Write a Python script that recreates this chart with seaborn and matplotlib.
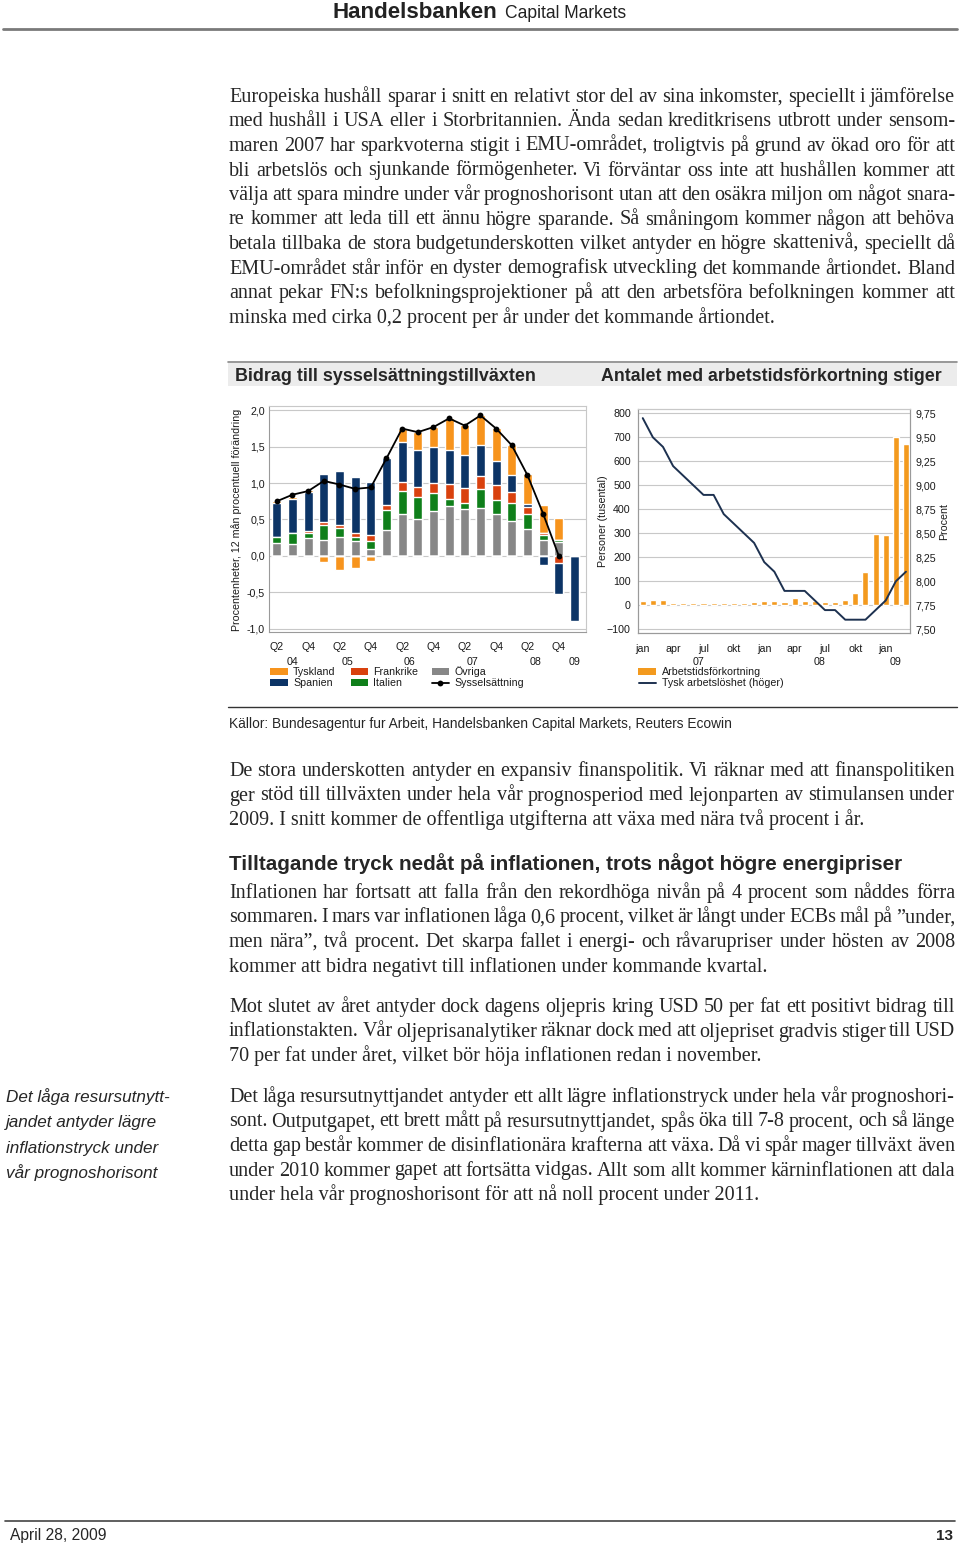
import numpy as np
import pandas as pd
import matplotlib
matplotlib.use("Agg")
import matplotlib.pyplot as plt
import matplotlib.ticker as ticker
import seaborn as sns
from matplotlib import font_manager
from matplotlib.patches import Rectangle
from matplotlib.lines import Line2D
from matplotlib.transforms import blended_transform_factory

# --- Vänster diagram: bidrag till sysselsättningstillväxten (procentenheter) ---
kvartal = ["Q2 04", "Q3 04", "Q4 04", "Q1 05", "Q2 05", "Q3 05", "Q4 05", "Q1 06", "Q2 06", "Q3 06",
           "Q4 06", "Q1 07", "Q2 07", "Q3 07", "Q4 07", "Q1 08", "Q2 08", "Q3 08", "Q4 08", "Q1 09"]
ovriga = [0.17, 0.16, 0.24, 0.22, 0.26, 0.20, 0.10, 0.35, 0.57, 0.51,
          0.61, 0.69, 0.64, 0.66, 0.58, 0.48, 0.37, 0.22, 0.19, 0.00]
italien = [0.09, 0.15, 0.08, 0.20, 0.12, 0.06, 0.10, 0.28, 0.32, 0.30,
           0.25, 0.09, 0.09, 0.26, 0.19, 0.25, 0.20, 0.06, 0.03, 0.00]
frankrike = [-0.02, 0.00, 0.02, 0.05, 0.05, 0.06, 0.08, 0.07, 0.12, 0.14,
             0.14, 0.21, 0.20, 0.18, 0.20, 0.15, 0.10, 0.03, -0.10, 0.00]
spanien = [0.46, 0.47, 0.54, 0.65, 0.74, 0.77, 0.73, 0.65, 0.56, 0.50,
           0.49, 0.47, 0.46, 0.43, 0.33, 0.23, 0.04, -0.12, -0.42, -0.90]
tyskland = [0.04, 0.03, 0.03, -0.09, -0.19, -0.17, -0.07, -0.02, 0.18, 0.25,
            0.28, 0.43, 0.41, 0.41, 0.46, 0.42, 0.41, 0.39, 0.30, 0.01]
sysselsattning = [0.75, 0.84, 0.89, 1.03, 0.98, 0.92, 0.94, 1.34, 1.75, 1.70,
                  1.77, 1.89, 1.79, 1.93, 1.75, 1.52, 1.11, 0.58, 0.00]
q_etiketter = ["Q2", "Q4"] * 5
ar_vanster = ["04", "05", "06", "07", "08", "09"]

# --- Höger diagram: arbetstidsförkortning (tusental) och tysk arbetslöshet (%) ---
manader = ["jan 07", "feb 07", "mar 07", "apr 07", "maj 07", "jun 07", "jul 07", "aug 07", "sep 07",
           "okt 07", "nov 07", "dec 07", "jan 08", "feb 08", "mar 08", "apr 08", "maj 08", "jun 08",
           "jul 08", "aug 08", "sep 08", "okt 08", "nov 08", "dec 08", "jan 09", "feb 09", "mar 09"]
arbetstid = [18, 21, 21, 10, 10, 10, 9, 8, 8, 8, 9, 14, 18, 18, 15, 32,
             18, 18, 15, 14, 24, 53, 139, 299, 293, 703, 673]
arbetsloshet = [9.70, 9.50, 9.40, 9.20, 9.10, 9.00, 8.90, 8.90, 8.70, 8.60, 8.50, 8.40, 8.20, 8.10,
                7.90, 7.90, 7.90, 7.80, 7.70, 7.70, 7.60, 7.60, 7.60, 7.70, 7.80, 8.00, 8.10]
man_etiketter = ["jan", "apr", "jul", "okt", "jan", "apr", "jul", "okt", "jan"]
ar_hoger = ["07", "08", "09"]

# --- Brödtext ---
stycke1 = [
    "Europeiska hushåll sparar i snitt en relativt stor del av sina inkomster, speciellt i jämförelse",
    "med hushåll i USA eller i Storbritannien. Ända sedan kreditkrisens utbrott under sensom-",
    "maren 2007 har sparkvoterna stigit i EMU-området, troligtvis på grund av ökad oro för att",
    "bli arbetslös och sjunkande förmögenheter. Vi förväntar oss inte att hushållen kommer att",
    "välja att spara mindre under vår prognoshorisont utan att den osäkra miljon om något snara-",
    "re kommer att leda till ett ännu högre sparande. Så småningom kommer någon att behöva",
    "betala tillbaka de stora budgetunderskotten vilket antyder en högre skattenivå, speciellt då",
    "EMU-området står inför en dyster demografisk utveckling det kommande årtiondet. Bland",
    "annat pekar FN:s befolkningsprojektioner på att den arbetsföra befolkningen kommer att",
    "minska med cirka 0,2 procent per år under det kommande årtiondet.",
]
stycke2 = [
    "De stora underskotten antyder en expansiv finanspolitik. Vi räknar med att finanspolitiken",
    "ger stöd till tillväxten under hela vår prognosperiod med lejonparten av stimulansen under",
    "2009. I snitt kommer de offentliga utgifterna att växa med nära två procent i år.",
]
rubrik = "Tilltagande tryck nedåt på inflationen, trots något högre energipriser"
stycke3 = [
    "Inflationen har fortsatt att falla från den rekordhöga nivån på 4 procent som nåddes förra",
    "sommaren. I mars var inflationen låga 0,6 procent, vilket är långt under ECBs mål på ”under,",
    "men nära”, två procent. Det skarpa fallet i energi- och råvarupriser under hösten av 2008",
    "kommer att bidra negativt till inflationen under kommande kvartal.",
]
stycke4 = [
    "Mot slutet av året antyder dock dagens oljepris kring USD 50 per fat ett positivt bidrag till",
    "inflationstakten. Vår oljeprisanalytiker räknar dock med att oljepriset gradvis stiger till USD",
    "70 per fat under året, vilket bör höja inflationen redan i november.",
]
stycke5 = [
    "Det låga resursutnyttjandet antyder ett allt lägre inflationstryck under hela vår prognoshori-",
    "sont. Outputgapet, ett brett mått på resursutnyttjandet, spås öka till 7-8 procent, och så länge",
    "detta gap består kommer de disinflationära krafterna att växa. Då vi spår mager tillväxt även",
    "under 2010 kommer gapet att fortsätta vidgas. Allt som allt kommer kärninflationen att dala",
    "under hela vår prognoshorisont för att nå noll procent under 2011.",
]
marginal = ["Det låga resursutnytt-", "jandet antyder lägre", "inflationstryck under", "vår prognoshorisont"]

# --- Stil ---
sns.set_style("white")
installerade = {f.name for f in font_manager.fontManager.ttflist}
SANS = "Liberation Sans"
SMAL = "Liberation Sans Narrow" if "Liberation Sans Narrow" in installerade else SANS
SERIF = "Liberation Serif"
plt.rcParams["font.family"] = [SANS, "DejaVu Sans"]

W, H = 960, 1546
fig = plt.figure(figsize=(W / 100, H / 100), dpi=100)
renderer = fig.canvas.get_renderer()


def fy(y):
    return 1 - y / H


def txt(x, y, s, **kw):
    kw.setdefault("va", "baseline")
    return fig.text(x / W, fy(y), s, **kw)


def passa(t, bredd):
    w = t.get_window_extent(renderer).width
    t.set_fontsize(t.get_fontsize() * bredd / w)
    return t


def linje(x0, x1, y, **kw):
    fig.add_artist(Line2D([x0 / W, x1 / W], [fy(y), fy(y)], transform=fig.transFigure, **kw))


def stycke(rader, y0, storlek, dy=24.5, x0=229, x1=955):
    # justerad text: sista raden vänsterställd
    for i, rad in enumerate(rader):
        y = y0 + i * dy + 6
        if i == len(rader) - 1:
            txt(x0, y, rad, family=SERIF, fontsize=storlek)
            continue
        ord_ = rad.split(" ")
        tt = [txt(x0, y, w, family=SERIF, fontsize=storlek) for w in ord_]
        br = [t.get_window_extent(renderer).width for t in tt]
        gap = (x1 - x0 - sum(br)) / (len(ord_) - 1)
        x = x0
        for t, b in zip(tt, br):
            t.set_x(x / W)
            x += b + gap


# --- Sidhuvud ---
passa(txt(333, 18, "Handelsbanken", weight="bold", fontsize=13, color="#222222"), 165)
passa(txt(505, 18, "Capital Markets", fontsize=10, color="#222222"), 122)
linje(3, 957, 29, color="#7a7a7a", lw=2)

# --- Brödtext ---
prov = passa(txt(229, 0, stycke1[-1], family=SERIF, fontsize=13.2), 550)
BROD = prov.get_fontsize()
prov.remove()
stycke(stycke1, 96, BROD)
stycke(stycke2, 770, BROD)
passa(txt(229, 870, rubrik, weight="bold", fontsize=12.5), 673)
stycke(stycke3, 892, BROD)
stycke(stycke4, 1006, BROD)
stycke(stycke5, 1096, BROD)

m0 = passa(txt(6, 1102, marginal[0], style="italic", fontsize=11), 164)
for i, rad in enumerate(marginal[1:], start=1):
    txt(6, 1102 + i * 25.3, rad, style="italic", fontsize=m0.get_fontsize())

# --- Diagramrubriker ---
fig.add_artist(Rectangle((228 / W, fy(386)), (957 - 228) / W, 25 / H, transform=fig.transFigure,
                         color="#ececec", lw=0))
linje(228, 957, 361.5, color="#8a8a8a", lw=1.2)
passa(txt(235, 381, "Bidrag till sysselsättningstillväxten", family=SMAL, weight="bold", fontsize=12), 296)
passa(txt(601, 381, "Antalet med arbetstidsförkortning stiger", family=SMAL, weight="bold", fontsize=12), 339)

TICK = 7.7
GRA = "#9a9a9a"
LJUS = "#c8c8c8"
TXT = "#1a1a1a"

# --- Vänster diagram ---
ax1 = fig.add_axes([269 / W, fy(632), (585.7 - 269) / W, (632 - 406) / H])
df = pd.DataFrame({"Övriga": ovriga, "Italien": italien, "Frankrike": frankrike,
                   "Spanien": spanien, "Tyskland": tyskland}, index=kvartal)
farg = {"Tyskland": "#F7941D", "Spanien": "#0C3466", "Frankrike": "#D9410E",
        "Italien": "#0F7F1A", "Övriga": "#878787"}
pos_ordning = ["Övriga", "Italien", "Frankrike", "Spanien", "Tyskland"]
neg_ordning = ["Frankrike", "Spanien", "Tyskland", "Italien", "Övriga"]
pos = df[pos_ordning].clip(lower=0).cumsum(axis=1)
neg = df[neg_ordning].clip(upper=0).cumsum(axis=1)
xk = np.arange(len(kvartal))
for ordning, stack in ((pos_ordning, pos), (neg_ordning, neg)):
    for land in reversed(ordning):
        sns.barplot(x=xk, y=stack[land].values, color=farg[land], width=0.57, saturation=1,
                    errorbar=None, orient="x", ax=ax1, zorder=3)
sns.lineplot(x=xk[:len(sysselsattning)], y=sysselsattning, color="black", lw=1.3, marker="o",
             markersize=4.2, markeredgewidth=0, ax=ax1, zorder=5)

ax1.set_xlim(-0.49, 19.72)
ax1.set_ylim(-1.048, 2.06)
ax1.set_yticks(np.arange(-1.0, 2.01, 0.5))
ax1.yaxis.set_major_formatter(ticker.FuncFormatter(lambda v, p: f"{v:.1f}".replace(".", ",")))
ax1.yaxis.grid(True, color=LJUS, lw=0.8)
ax1.set_axisbelow(True)
ax1.set_xticks(np.arange(0, 20, 2))
ax1.set_xticklabels(q_etiketter)
ax1.set_xticks([-0.5, 2.5, 6.5, 10.5, 14.5, 18.5], minor=True)
ax1.tick_params(axis="y", length=0, pad=3, labelsize=TICK, labelcolor=TXT)
ax1.tick_params(axis="x", which="major", length=2, width=0.7, color=GRA, pad=5.5,
                labelsize=TICK, labelcolor=TXT)
ax1.tick_params(axis="x", which="minor", length=4.5, width=0.7, color=GRA)
ax1.set_xlabel("")
ax1.set_ylabel("")
for s in ["left", "bottom"]:
    ax1.spines[s].set_color(GRA)
for s in ["top", "right"]:
    ax1.spines[s].set_color(LJUS)
for s in ax1.spines.values():
    s.set_linewidth(0.8)
tr1 = blended_transform_factory(ax1.transData, fig.transFigure)
for xp, ar in zip([1, 4.5, 8.5, 12.5, 16.5, 19], ar_vanster):
    ax1.text(xp, fy(665), ar, transform=tr1, ha="center", va="baseline", fontsize=TICK, color=TXT)
txt(237, 520, "Procentenheter, 12 mån procentuell förändring", rotation=90, ha="center",
    va="center", fontsize=TICK, color=TXT)


def ruta(x0, x1, y, f):
    fig.add_artist(Rectangle((x0 / W, fy(y + 3.7)), (x1 - x0) / W, 7.4 / H,
                             transform=fig.transFigure, color=f, lw=0))


for (x0, y, namn) in [(270, 671.5, "Tyskland"), (350.5, 671.5, "Frankrike"), (431.5, 671.5, "Övriga"),
                      (270, 682.8, "Spanien"), (350.5, 682.8, "Italien")]:
    ruta(x0, x0 + 17.5, y, farg[namn])
    txt(x0 + 23, y + 3.7, namn, fontsize=TICK, color=TXT)
fig.add_artist(Line2D([431.5 / W, 448.5 / W], [fy(682.8), fy(682.8)], transform=fig.transFigure,
                      color="black", lw=1.3))
fig.add_artist(Line2D([440 / W], [fy(682.8)], transform=fig.transFigure, color="black",
                      marker="o", markersize=4.2, markeredgewidth=0))
txt(454.5, 686.5, "Sysselsättning", fontsize=TICK, color=TXT)

# --- Höger diagram ---
ax2 = fig.add_axes([637.7 / W, fy(633.3), (910 - 637.7) / W, (633.3 - 409) / H])
xm = np.arange(len(manader))
sns.barplot(x=xm, y=arbetstid, color="#F39A1E", width=0.6, saturation=1, errorbar=None,
            orient="x", ax=ax2, zorder=3)
ax2.set_xlim(-0.49, 26.4)
ax2.set_ylim(-116.7, 818)
ax2.set_yticks(np.arange(-100, 801, 100))
ax2.yaxis.grid(True, color=LJUS, lw=0.8)
ax2.set_axisbelow(True)
ax2r = ax2.twinx()
sns.lineplot(x=xm, y=arbetsloshet, color="#1D3150", lw=1.4, ax=ax2r)
ax2r.set_ylim(7.75 - 116.7 * 0.0025, 7.75 + 818 * 0.0025)
ax2r.set_yticks(np.arange(7.5, 9.76, 0.25))
ax2r.yaxis.set_major_formatter(ticker.FuncFormatter(lambda v, p: f"{v:.2f}".replace(".", ",")))
ax2.set_xlim(-0.49, 26.4)
ax2.set_xticks(np.arange(0, 27, 3))
ax2.set_xticklabels(man_etiketter)
ax2.set_xticks([-0.5, 11.5, 23.5], minor=True)
ax2.tick_params(axis="y", length=0, pad=5, labelsize=TICK, labelcolor=TXT)
ax2r.tick_params(axis="y", length=0, pad=4, labelsize=TICK, labelcolor=TXT)
ax2.tick_params(axis="x", which="major", length=2, width=0.7, color=GRA, pad=5.5,
                labelsize=TICK, labelcolor=TXT)
ax2.tick_params(axis="x", which="minor", length=4.5, width=0.7, color=GRA)
for a in (ax2, ax2r):
    a.set_xlabel("")
    a.set_ylabel("")
    for s in ["left", "bottom", "right"]:
        a.spines[s].set_color(GRA)
    a.spines["top"].set_color(LJUS)
    for s in a.spines.values():
        s.set_linewidth(0.8)
tr2 = blended_transform_factory(ax2.transData, fig.transFigure)
for xp, ar in zip([5.5, 17.5, 25], ar_hoger):
    ax2.text(xp, fy(665), ar, transform=tr2, ha="center", va="baseline", fontsize=TICK, color=TXT)
txt(603, 521, "Personer (tusental)", rotation=90, ha="center", va="center", fontsize=TICK, color=TXT)
txt(944, 521, "Procent", rotation=90, ha="center", va="center", fontsize=TICK, color=TXT)
ruta(638.3, 656, 671.5, "#F39A1E")
txt(661.7, 675.2, "Arbetstidsförkortning", fontsize=TICK, color=TXT)
fig.add_artist(Line2D([639.3 / W, 656 / W], [fy(682.8), fy(682.8)], transform=fig.transFigure,
                      color="#1D3150", lw=1.4))
txt(661.7, 686.5, "Tysk arbetslöshet (höger)", fontsize=TICK, color=TXT)

# --- Källa ---
linje(228, 957, 707, color="#333333", lw=1)
passa(txt(229, 728, "Källor: Bundesagentur fur Arbeit, Handelsbanken Capital Markets, Reuters Ecowin",
          family=SMAL, fontsize=9.5), 503)

# --- Sidfot ---
linje(5, 955, 1521, color="#444444", lw=1.2)
passa(txt(10, 1540, "April 28, 2009", family=SMAL, fontsize=10), 97)
txt(953, 1540, "13", family=SMAL, weight="bold", fontsize=11, ha="right")

fig.savefig("out.png", dpi=100)
